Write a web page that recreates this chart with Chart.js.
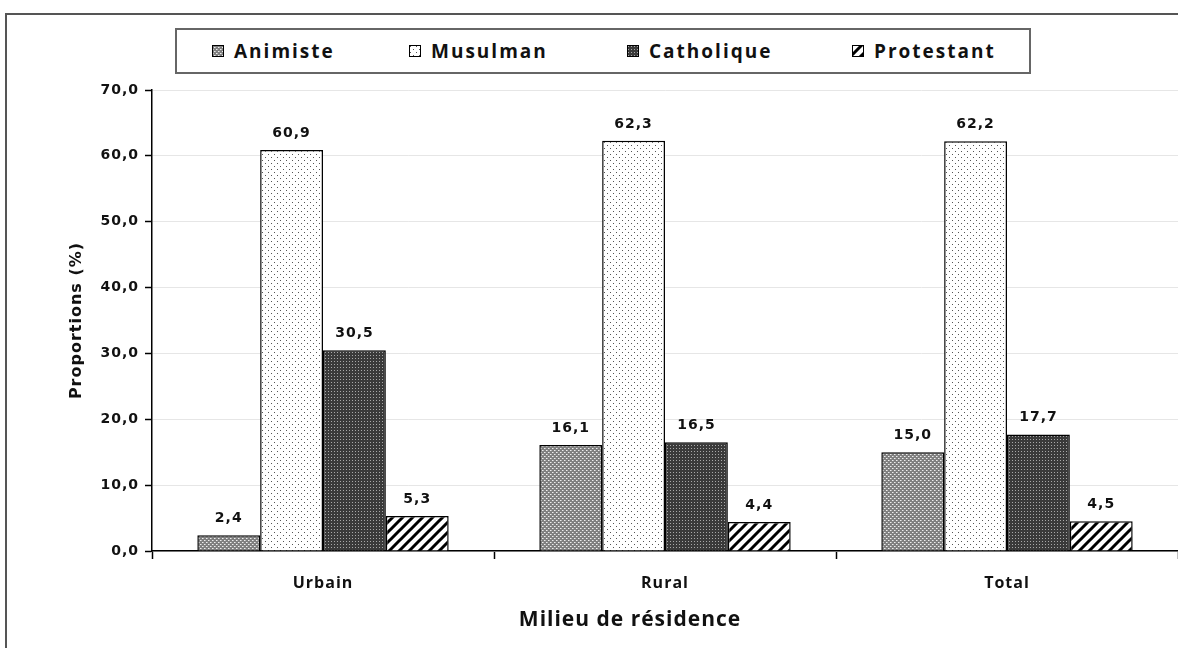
<!DOCTYPE html>
<html>
<head>
<meta charset="utf-8">
<script src="https://cdn.jsdelivr.net/npm/chart.js@4.4.1/dist/chart.umd.min.js"></script>
<style>
  html, body { margin: 0; padding: 0; background: #fff; }
  #wrap { position: relative; width: 1178px; height: 648px; overflow: hidden; }
  #frame { position: absolute; left: 5px; top: 13px; width: 1200px; height: 700px; border-left: 2px solid #555; border-top: 2px solid #555; box-sizing: border-box; }
  #legend { position: absolute; left: 175px; top: 28px; width: 856px; height: 46px; border: 2px solid #666; box-sizing: border-box; background: #fff; }
  .item { position: absolute; top: 0; height: 42px; display: flex; align-items: center; font-family: "Open Sans", sans-serif; font-weight: 700; font-size: 19px; letter-spacing: 2px; color: #111; white-space: nowrap; }
  .item canvas { width: 12px; height: 12px; margin-right: 10px; }
  #c { position: absolute; left: 0; top: 0; }
</style>
</head>
<body>
<div id="wrap">
  <div id="frame"></div>
  <canvas id="c" width="1178" height="648"></canvas>
  <div id="legend"></div>
</div>
<script>
const categories = ["Urbain", "Rural", "Total"];
const seriesNames = ["Animiste", "Musulman", "Catholique", "Protestant"];
const animiste = [2.4, 16.1, 15.0];
const musulman = [60.9, 62.3, 62.2];
const catholique = [30.5, 16.5, 17.7];
const protestant = [5.3, 4.4, 4.5];
const yTicks = [0, 10, 20, 30, 40, 50, 60, 70];
const xTitle = 'Milieu de résidence';
const yTitle = 'Proportions (%)';

function makeTile(kind) {
  const t = document.createElement('canvas');
  const ctx = t.getContext('2d');
  if (kind === 0) { // Animiste: gray crosshatch
    t.width = 4; t.height = 4;
    ctx.fillStyle = '#808080'; ctx.fillRect(0, 0, 4, 4);
    ctx.fillStyle = '#eeeeee';
    ctx.fillRect(0, 0, 1, 1); ctx.fillRect(2, 2, 1, 1);
    ctx.fillStyle = '#bbbbbb';
    ctx.fillRect(1, 0, 1, 1); ctx.fillRect(3, 2, 1, 1);
  } else if (kind === 1) { // Musulman: sparse dots
    t.width = 6; t.height = 6;
    ctx.fillStyle = '#ffffff'; ctx.fillRect(0, 0, 6, 6);
    ctx.fillStyle = '#555';
    ctx.fillRect(1, 1, 1, 1); ctx.fillRect(4, 4, 1, 1);
  } else if (kind === 2) { // Catholique: dark grid
    t.width = 3; t.height = 3;
    ctx.fillStyle = '#3a3a3a'; ctx.fillRect(0, 0, 3, 3);
    ctx.fillStyle = '#a8a8a8';
    ctx.fillRect(1, 1, 1, 1);
  } else { // Protestant: diagonal hatch
    t.width = 10; t.height = 10;
    ctx.fillStyle = '#ffffff'; ctx.fillRect(0, 0, 10, 10);
    ctx.strokeStyle = '#000'; ctx.lineWidth = 3;
    ctx.beginPath();
    ctx.moveTo(-5, 5); ctx.lineTo(5, -5);
    ctx.moveTo(0, 10); ctx.lineTo(10, 0);
    ctx.moveTo(5, 15); ctx.lineTo(15, 5);
    ctx.stroke();
  }
  return t;
}

const canvas = document.getElementById('c');
const mainCtx = canvas.getContext('2d');
const patterns = [0, 1, 2, 3].map(k => mainCtx.createPattern(makeTile(k), 'repeat'));
const seriesData = [animiste, musulman, catholique, protestant];

// HTML legend
const legendItemLeft = [35, 232, 450, 675];
const leg = document.getElementById('legend');
seriesNames.forEach((name, i) => {
  const it = document.createElement('div');
  it.className = 'item';
  it.style.left = legendItemLeft[i] + 'px';
  const sw = document.createElement('canvas');
  sw.width = 12; sw.height = 12;
  const sctx = sw.getContext('2d');
  sctx.fillStyle = sctx.createPattern(makeTile(i), 'repeat');
  sctx.fillRect(0, 0, 12, 12);
  sctx.strokeStyle = '#000'; sctx.lineWidth = 1;
  sctx.strokeRect(0.5, 0.5, 11, 11);
  it.appendChild(sw);
  const sp = document.createElement('span');
  sp.textContent = name;
  it.appendChild(sp);
  leg.appendChild(it);
});

const fmt = v => v.toFixed(1).replace('.', ',');

const spacing = {
  id: 'spacing',
  beforeLayout(chart) { chart.ctx.letterSpacing = '1px'; },
  beforeDraw(chart) { chart.ctx.letterSpacing = '1px'; }
};

const valueLabels = {
  id: 'valueLabels',
  afterDatasetsDraw(chart) {
    const ctx = chart.ctx;
    ctx.save();
    ctx.font = 'bold 14px "DejaVu Sans"';
    ctx.fillStyle = '#111';
    ctx.textAlign = 'center';
    ctx.textBaseline = 'alphabetic';
    chart.data.datasets.forEach((ds, di) => {
      const meta = chart.getDatasetMeta(di);
      meta.data.forEach((bar, i) => {
        ctx.fillText(fmt(ds.data[i]), bar.x, bar.y - 13);
      });
    });
    // x axis title (offset left as in the original)
    ctx.font = 'bold 21px "Open Sans"';
    ctx.textBaseline = 'middle';
    ctx.fillText(xTitle, 630, 620);
    ctx.restore();
  }
};

new Chart(canvas, {
  type: 'bar',
  data: {
    labels: categories,
    datasets: seriesNames.map((name, i) => ({
      label: name,
      data: seriesData[i],
      backgroundColor: patterns[i],
      borderColor: '#000',
      borderWidth: 1.5,
      borderSkipped: 'bottom',
      barPercentage: 1.0,
      categoryPercentage: 0.735
    }))
  },
  options: {
    responsive: false,
    animation: false,
    devicePixelRatio: 1,
    layout: { padding: { left: 0, right: 0, top: 90, bottom: 0 } },
    plugins: {
      legend: { display: false },
      tooltip: { enabled: false }
    },
    scales: {
      x: {
        grid: { display: true, drawOnChartArea: false, offset: true, tickLength: 8, tickColor: '#000', tickWidth: 1.5 },
        border: { color: '#000', width: 1.5 },
        ticks: { color: '#111', padding: 15, font: { family: '"Open Sans"', weight: 'bold', size: 16 } },
        title: { display: false },
        afterFit(scale) { scale.height = 97; }
      },
      y: {
        min: 0, max: 70,
        afterBuildTicks(scale) { scale.ticks = yTicks.map(v => ({ value: v })); },
        grid: { color: '#e6e6e6', lineWidth: 1, tickLength: 7, tickColor: '#000', tickWidth: 1.5 },
        border: { color: '#000', width: 1.5 },
        ticks: { color: '#111', padding: 6, font: { family: '"DejaVu Sans"', weight: 'bold', size: 14 },
                 callback: v => fmt(v) },
        title: { display: true, text: yTitle, color: '#111',
                 font: { family: '"DejaVu Sans"', weight: 'bold', size: 16 }, padding: { top: 67, bottom: 0 } },
        afterFit(scale) { scale.width = 152; }
      }
    }
  },
  plugins: [spacing, valueLabels]
});
</script>
</body>
</html>
